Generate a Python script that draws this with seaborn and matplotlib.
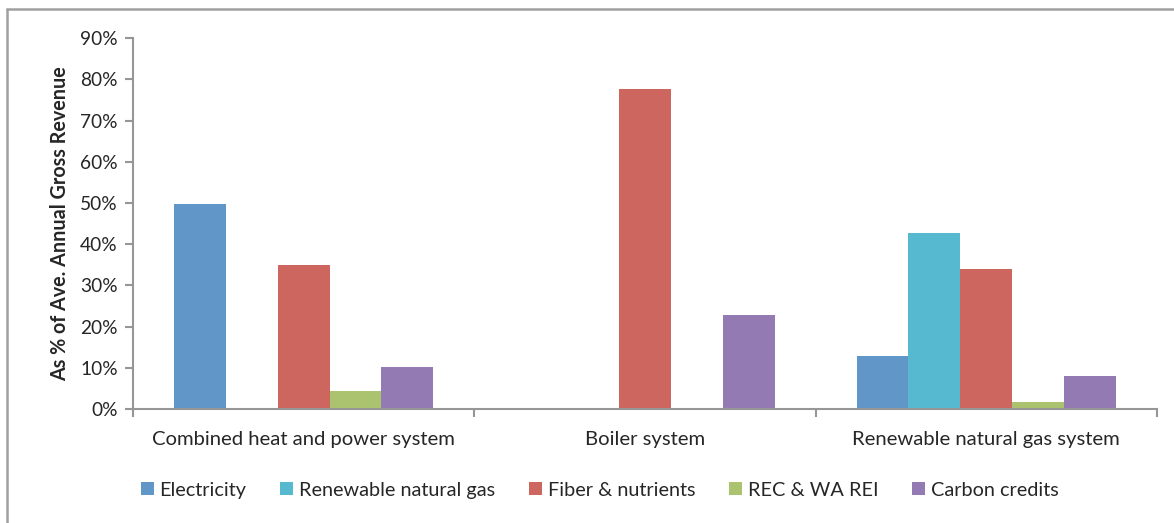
import pandas as pd
import numpy as np
import matplotlib
matplotlib.use('Agg')
import matplotlib.pyplot as plt
import seaborn as sns
from matplotlib.ticker import PercentFormatter
from matplotlib.patches import Patch
from matplotlib.lines import Line2D

systems = ['Combined heat and power system', 'Boiler system', 'Renewable natural gas system']
streams = ['Electricity', 'Renewable natural gas', 'Fiber & nutrients', 'REC & WA REI', 'Carbon credits']
electricity = [0.497, 0.0, 0.129]
rng_gas = [0.0, 0.0, 0.428]
fiber = [0.350, 0.777, 0.340]
rec = [0.044, 0.0, 0.016]
carbon = [0.102, 0.227, 0.081]
colors = ['#6096C8', '#57B9D0', '#CD665E', '#ABC36E', '#947AB2']

rows = []
for vals, s in zip([electricity, rng_gas, fiber, rec, carbon], streams):
    for sys_name, v in zip(systems, vals):
        rows.append({'system': sys_name, 'stream': s, 'share': v})
df = pd.DataFrame(rows)

sns.set_style('white')
plt.rcParams['font.family'] = ['Lato', 'DejaVu Sans']

fig = plt.figure(figsize=(11.74, 5.23), dpi=100)
ax = fig.add_axes([0.1133, 0.218, 0.8722, 0.709])

sns.barplot(data=df, x='system', y='share', hue='stream', hue_order=streams,
            order=systems, palette=colors, width=0.76, linewidth=0,
            saturation=1, ax=ax, legend=False)

ax.set_xlim(-0.5, 2.5)
ax.set_ylim(0, 0.9)
ax.set_yticks(np.arange(0, 0.91, 0.1))
ax.yaxis.set_major_formatter(PercentFormatter(1.0, decimals=0))
ax.set_xlabel('')
ax.set_ylabel('As % of Ave. Annual Gross Revenue', fontsize=14.2, fontweight='bold', labelpad=7)

axis_grey = '#969696'
for side in ['top', 'right']:
    ax.spines[side].set_visible(False)
for side in ['left', 'bottom']:
    ax.spines[side].set_color(axis_grey)
    ax.spines[side].set_linewidth(1.5)

ax.tick_params(axis='y', which='major', left=True, length=6, width=1.5,
               color=axis_grey, labelsize=13.8, pad=5)
ax.tick_params(axis='x', which='major', bottom=False, labelsize=14.6, pad=12)
ax.set_xticks([-0.5, 0.5, 1.5, 2.5], minor=True)
ax.tick_params(axis='x', which='minor', bottom=True, length=6, width=1.5,
               color=axis_grey, direction='out')

handles = [Patch(facecolor=c, edgecolor='none') for c in colors]
fig.legend(handles, streams, loc='center', bbox_to_anchor=(0.511, 0.063),
           ncol=5, frameon=False, fontsize=14.3, handlelength=0.65,
           handleheight=0.65, handletextpad=0.3, columnspacing=1.7)

# chart area border (top and left edges only are visible)
fig.add_artist(Line2D([7 / 1174, 7 / 1174], [0, 1 - 9 / 523], transform=fig.transFigure,
                      color='#a0a0a0', linewidth=1.8))
fig.add_artist(Line2D([7 / 1174, 1], [1 - 9 / 523, 1 - 9 / 523], transform=fig.transFigure,
                      color='#a0a0a0', linewidth=1.8))

fig.savefig('out.png', dpi=100)
